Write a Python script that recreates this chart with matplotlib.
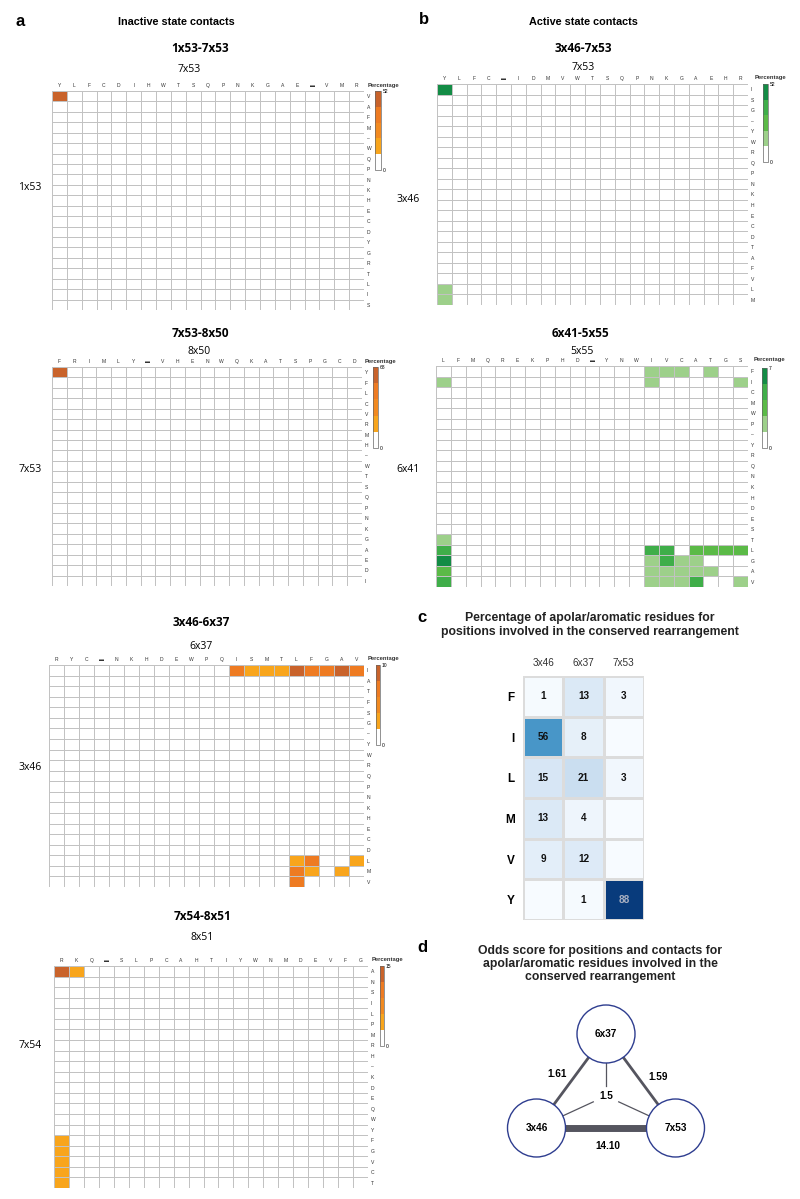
import numpy as np
import matplotlib.pyplot as plt
from matplotlib.colors import ListedColormap, BoundaryNorm
from matplotlib.patches import Circle

W, H = 800, 1199
DASH = '\u25ac'

# ---------------------------------------------------------------- data
# 1x53-7x53 (inactive)
a1_cols = ['Y', 'L', 'F', 'C', 'D', 'I', 'H', 'W', 'T', 'S', 'Q', 'P', 'N', 'K', 'G', 'A', 'E', DASH, 'V', 'M', 'R']
a1_rows = ['V', 'A', 'F', 'M', '–', 'W', 'Q', 'P', 'N', 'K', 'H', 'E', 'C', 'D', 'Y', 'G', 'R', 'T', 'L', 'I', 'S']
a1_hits = [('V', 'Y', 52)]
a1_max = 52

# 7x53-8x50 (inactive)
a2_cols = ['F', 'R', 'I', 'M', 'L', 'Y', DASH, 'V', 'H', 'E', 'N', 'W', 'Q', 'K', 'A', 'T', 'S', 'P', 'G', 'C', 'D']
a2_rows = ['Y', 'F', 'L', 'C', 'V', 'R', 'M', 'H', '–', 'W', 'T', 'S', 'Q', 'P', 'N', 'K', 'G', 'A', 'E', 'D', 'I']
a2_hits = [('Y', 'F', 68)]
a2_max = 68

# 3x46-6x37 (inactive)
a3_cols = ['R', 'Y', 'C', DASH, 'N', 'K', 'H', 'D', 'E', 'W', 'P', 'Q', 'I', 'S', 'M', 'T', 'L', 'F', 'G', 'A', 'V']
a3_rows = ['I', 'A', 'T', 'F', 'S', 'G', '–', 'Y', 'W', 'R', 'Q', 'P', 'N', 'K', 'H', 'E', 'C', 'D', 'L', 'M', 'V']
a3_hits = [('I', 'I', 7), ('I', 'S', 3), ('I', 'M', 3), ('I', 'T', 3), ('I', 'L', 9),
           ('I', 'F', 7), ('I', 'G', 7), ('I', 'A', 9), ('I', 'V', 7),
           ('L', 'L', 3), ('L', 'F', 6.5), ('L', 'V', 3),
           ('M', 'L', 6.5), ('M', 'F', 3), ('M', 'A', 3),
           ('V', 'L', 6.5)]
a3_max = 10

# 7x54-8x51 (inactive)
a4_cols = ['R', 'K', 'Q', DASH, 'S', 'L', 'P', 'C', 'A', 'H', 'T', 'I', 'Y', 'W', 'N', 'M', 'D', 'E', 'V', 'F', 'G']
a4_rows = ['A', 'N', 'S', 'I', 'L', 'P', 'M', 'R', 'H', '–', 'K', 'D', 'E', 'Q', 'W', 'Y', 'F', 'G', 'V', 'C', 'T']
a4_hits = [('A', 'R', 14), ('A', 'K', 4), ('F', 'R', 4), ('G', 'R', 4), ('V', 'R', 4), ('C', 'R', 4), ('T', 'R', 4)]
a4_max = 15

# 3x46-7x53 (active)
b1_cols = ['Y', 'L', 'F', 'C', DASH, 'I', 'D', 'M', 'V', 'W', 'T', 'S', 'Q', 'P', 'N', 'K', 'G', 'A', 'E', 'H', 'R']
b1_rows = ['I', 'S', 'G', '–', 'Y', 'W', 'R', 'Q', 'P', 'N', 'K', 'H', 'E', 'C', 'D', 'T', 'A', 'F', 'V', 'L', 'M']
b1_hits = [('I', 'Y', 52), ('L', 'Y', 14), ('M', 'Y', 14)]
b1_max = 52

# 6x41-5x55 (active)
b2_cols = ['L', 'F', 'M', 'Q', 'R', 'E', 'K', 'P', 'H', 'D', DASH, 'Y', 'N', 'W', 'I', 'V', 'C', 'A', 'T', 'G', 'S']
b2_rows = ['F', 'I', 'C', 'M', 'W', 'P', '–', 'Y', 'R', 'Q', 'N', 'K', 'H', 'D', 'E', 'S', 'T', 'L', 'G', 'A', 'V']
b2_hits = [('F', 'I', 2), ('F', 'V', 2), ('F', 'C', 2), ('F', 'T', 2),
           ('I', 'L', 2), ('I', 'I', 2), ('I', 'S', 2),
           ('T', 'L', 2),
           ('L', 'L', 4.5), ('L', 'I', 4.5), ('L', 'V', 4.5), ('L', 'A', 4), ('L', 'T', 4), ('L', 'G', 4), ('L', 'S', 4),
           ('G', 'L', 6.5), ('G', 'I', 2), ('G', 'V', 4.5), ('G', 'C', 2), ('G', 'A', 2),
           ('A', 'L', 4), ('A', 'I', 2), ('A', 'V', 2), ('A', 'C', 2), ('A', 'A', 2), ('A', 'T', 2),
           ('V', 'L', 5), ('V', 'I', 2), ('V', 'V', 2), ('V', 'C', 2), ('V', 'A', 4.5), ('V', 'S', 2)]
b2_max = 7

# panel c
c_rows = ['F', 'I', 'L', 'M', 'V', 'Y']
c_cols = ['3x46', '6x37', '7x53']
c_vals = [[1, 13, 3],
          [56, 8, None],
          [15, 21, 3],
          [13, 4, None],
          [9, 12, None],
          [None, 1, 88]]

# panel d
d_nodes = ['6x37', '3x46', '7x53']
d_edges = [('3x46', '6x37', '1.61'), ('6x37', '7x53', '1.59'), ('3x46', '7x53', '14.10')]
d_triple = '1.5'

# ---------------------------------------------------------------- helpers
ORANGE = ['#ffffff', '#f8a51c', '#f28a20', '#ee7b22', '#c9632b']
GREEN = ['#ffffff', '#9dd08a', '#5bba47', '#3fae49', '#138c45']
TXT = ['Open Sans', 'DejaVu Sans']
SMALL = ['Liberation Sans', 'DejaVu Sans']

fig = plt.figure(figsize=(W / 100, H / 100), dpi=100)


def px(x0, y0, x1, y1):
    return [x0 / W, 1 - y1 / H, (x1 - x0) / W, (y1 - y0) / H]


def put(x, y, s, **kw):
    kw.setdefault('ha', 'center')
    kw.setdefault('va', 'center')
    fig.text(x / W, 1 - y / H, s, **kw)


def heat(grid, rows, cols, hits, vmax, colors, cbar, title, top, side):
    ax = fig.add_axes(px(*grid))
    M = np.zeros((len(rows), len(cols)))
    for r, c, v in hits:
        M[rows.index(r), cols.index(c)] = v
    cmap = ListedColormap(colors)
    norm = BoundaryNorm(np.linspace(0, vmax * 1.001, 6), 5)
    mesh = ax.pcolormesh(M, cmap=cmap, norm=norm, edgecolors='#c2c2c2', linewidth=0.7)
    ax.set_xlim(0, len(cols))
    ax.set_ylim(len(rows), 0)
    ax.xaxis.tick_top()
    ax.yaxis.tick_right()
    ax.set_xticks(np.arange(len(cols)) + 0.5, cols, fontsize=3.6, family=SMALL, color='#333333')
    ax.set_yticks(np.arange(len(rows)) + 0.5, rows, fontsize=3.6, family=SMALL, color='#333333')
    ax.tick_params(length=0, pad=2)
    for s in ax.spines.values():
        s.set_visible(False)

    cax = fig.add_axes(px(*cbar))
    cb = fig.colorbar(mesh, cax=cax, ticks=[0, vmax])
    cb.ax.minorticks_off()
    cb.ax.set_yticklabels(['0', str(vmax)], fontsize=3.6, family=SMALL)
    cb.ax.tick_params(which='both', length=0, pad=1.5)
    cb.outline.set_linewidth(0.5)
    cb.outline.set_edgecolor('#666666')
    put((cbar[0] + cbar[2]) / 2 + 5, grid[1] - 6, 'Percentage', fontsize=4.2,
        fontweight='bold', family=SMALL, color='#333333')

    put(title[0], title[1], title[2], fontsize=8.5, fontweight='bold', family=TXT)
    put(top[0], top[1], top[2], fontsize=7.5, family=TXT)
    put(side[0], side[1], side[2], fontsize=7.5, family=TXT)
    return ax


# ---------------------------------------------------------------- panel a
put(20, 22, 'a', fontsize=12, fontweight='bold', family=SMALL)
put(176, 22, 'Inactive state contacts', fontsize=7.8, fontweight='bold', family=SMALL)
heat((52, 91, 364, 310), a1_rows, a1_cols, a1_hits, a1_max, ORANGE, (375, 91, 381, 170),
     (200, 48, '1x53-7x53'), (189, 70, '7x53'), (30, 187, '1x53'))
heat((52, 367, 362, 586), a2_rows, a2_cols, a2_hits, a2_max, ORANGE, (373, 367, 378, 448),
     (200, 333, '7x53-8x50'), (199, 352, '8x50'), (30, 470, '7x53'))
heat((49, 665, 364, 887), a3_rows, a3_cols, a3_hits, a3_max, ORANGE, (376, 665, 380, 745),
     (201, 622, '3x46-6x37'), (201, 646, '6x37'), (30, 767, '3x46'))
heat((54, 966, 368, 1188), a4_rows, a4_cols, a4_hits, a4_max, ORANGE, (380, 966, 384, 1046),
     (203, 917, '7x54-8x51'), (202, 937, '8x51'), (30, 1045, '7x54'))

# ---------------------------------------------------------------- panel b
put(424, 20, 'b', fontsize=12, fontweight='bold', family=SMALL)
put(583, 22, 'Active state contacts', fontsize=7.8, fontweight='bold', family=SMALL)
heat((437, 84, 748, 305), b1_rows, b1_cols, b1_hits, b1_max, GREEN, (763, 84, 768, 162),
     (583, 48, '3x46-7x53'), (583, 67, '7x53'), (408, 200, '3x46'))
heat((436, 366, 748, 587), b2_rows, b2_cols, b2_hits, b2_max, GREEN, (762, 368, 767, 448),
     (580, 333, '6x41-5x55'), (582, 351, '5x55'), (408, 470, '6x41'))

# ---------------------------------------------------------------- panel c
put(422, 617, 'c', fontsize=12, fontweight='bold', family=SMALL)
put(590, 625, 'Percentage of apolar/aromatic residues for\npositions involved in the conserved rearrangement',
    fontsize=8.8, fontweight='bold', family=SMALL, color='#222222', linespacing=1.15)
axc = fig.add_axes(px(523, 676, 644, 920))
C = np.array([[np.nan if v is None else v for v in row] for row in c_vals], dtype=float)
axc.pcolormesh(np.nan_to_num(C, nan=0), cmap='Blues', vmin=0, vmax=92, edgecolors='#dcdcdc', linewidth=0.8)
axc.set_xlim(0, 3)
axc.set_ylim(6, 0)
for i in range(len(c_rows)):
    for j in range(len(c_cols)):
        if not np.isnan(C[i, j]):
            axc.text(j + 0.5, i + 0.5, f'{int(C[i, j])}', ha='center', va='center', fontsize=7.2,
                     fontweight='bold', family=SMALL, color='#a9b0c2' if C[i, j] > 70 else '#111111')
axc.xaxis.tick_top()
axc.set_xticks(np.arange(3) + 0.5, c_cols, fontsize=7.2, family=SMALL, color='#333333')
axc.set_yticks(np.arange(6) + 0.5, c_rows, fontsize=8.5, fontweight='bold', family=SMALL)
axc.tick_params(length=0, pad=6)
for s in axc.spines.values():
    s.set_visible(False)

# ---------------------------------------------------------------- panel d
put(422, 948, 'd', fontsize=12, fontweight='bold', family=SMALL)
put(600, 964, 'Odds score for positions and contacts for\napolar/aromatic residues involved in the\nconserved rearrangement',
    fontsize=8.8, fontweight='bold', family=SMALL, color='#222222', linespacing=1.1)
axd = fig.add_axes(px(480, 995, 730, 1170))
axd.set_xlim(480, 730)
axd.set_ylim(1170, 995)
axd.set_aspect('equal')
axd.axis('off')

# triangle layout
cx, cy, half, tall, rad = 606, 1096, 69.5, 94, 29
pos = {'6x37': (cx, 1128 - tall), '3x46': (cx - half, 1128), '7x53': (cx + half, 1128)}
widths = {'1.61': 2.0, '1.59': 2.0, '14.10': 5.0}
for a, b, lab in d_edges:
    (x0, y0), (x1, y1) = pos[a], pos[b]
    axd.plot([x0, x1], [y0, y1], color='#55555f', lw=widths[lab], solid_capstyle='butt', zorder=1)
# three-way contact spokes
for n in d_nodes:
    x1, y1 = pos[n]
    dx, dy = x1 - cx, y1 - cy
    d = np.hypot(dx, dy)
    gap = 10 if n == '6x37' else 14
    axd.plot([cx + dx / d * gap, x1], [cy + dy / d * gap, y1], color='#55555f', lw=0.9, zorder=1)
for n in d_nodes:
    axd.add_patch(Circle(pos[n], rad, facecolor='white', edgecolor='#2e3d8f', lw=1.0, zorder=2))
    axd.text(*pos[n], n, ha='center', va='center', fontsize=7.2, fontweight='bold', family=SMALL, zorder=3)
axd.text(cx, cy, d_triple, ha='center', va='center', fontsize=7.2, fontweight='bold', family=SMALL)
axd.text(557, 1074, '1.61', ha='center', va='center', fontsize=7.2, fontweight='bold', family=SMALL)
axd.text(658, 1077, '1.59', ha='center', va='center', fontsize=7.2, fontweight='bold', family=SMALL)
axd.text(608, 1146, '14.10', ha='center', va='center', fontsize=7.2, fontweight='bold', family=SMALL)

fig.savefig('out.png', dpi=100)
